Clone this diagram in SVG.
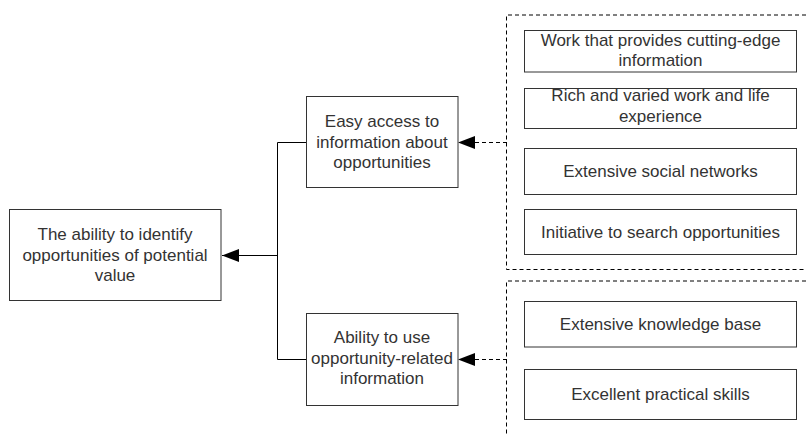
<svg xmlns="http://www.w3.org/2000/svg" width="806" height="435" viewBox="0 0 806 435">
<defs>
<style>
.box{fill:#fff;stroke:#333;stroke-width:1}
.t{font-family:"Liberation Sans",Arial,sans-serif;font-size:17px;fill:#333;text-anchor:middle}
.solid{fill:none;stroke:#000;stroke-width:1}
.dash{fill:none;stroke:#000;stroke-width:1;stroke-dasharray:4,3}
</style>
<marker id="ah" markerWidth="17" markerHeight="13" refX="17" refY="6.5" orient="auto" markerUnits="userSpaceOnUse">
<path d="M0,0 L17,6.5 L0,13 Z" fill="#000"/>
</marker>
</defs>
<rect width="806" height="435" fill="#fff"/>
<g id="connectors">
<path class="solid" d="M306,142.5 H277.5 V359.5 H306"/>
<path class="solid" d="M277.5,255.5 H222" marker-end="url(#ah)"/>
<path class="dash" d="M507,142.5 H458" marker-end="url(#ah)"/>
<path class="dash" d="M507,359.5 H458" marker-end="url(#ah)"/>
</g>
<g id="group1">
<path class="dash" d="M806,15 H506.5 V269.5 H806"/>
</g>
<g id="group2">
<path class="dash" d="M806,281 H506.5 V435"/>
</g>
<g id="main">
<rect class="box" x="9.5" y="209.5" width="211.5" height="91"/>
<text class="t" x="115" y="240">The ability to identify</text>
<text class="t" x="115" y="260.5">opportunities of potential</text>
<text class="t" x="115" y="281">value</text>
</g>
<g id="access">
<rect class="box" x="306.5" y="96.5" width="151.5" height="91"/>
<text class="t" x="382" y="127">Easy access to</text>
<text class="t" x="382" y="147.5">information about</text>
<text class="t" x="382" y="168">opportunities</text>
</g>
<g id="use">
<rect class="box" x="306.5" y="313.5" width="151.5" height="92"/>
<text class="t" x="382" y="343">Ability to use</text>
<text class="t" x="382" y="363.5">opportunity-related</text>
<text class="t" x="382" y="384">information</text>
</g>
<g id="work">
<rect class="box" x="524.5" y="30.5" width="272" height="41.5"/>
<text class="t" x="660.5" y="46">Work that provides cutting-edge</text>
<text class="t" x="660.5" y="66">information</text>
</g>
<g id="rich">
<rect class="box" x="524.5" y="88.5" width="272" height="40"/>
<text class="t" x="660.5" y="101">Rich and varied work and life</text>
<text class="t" x="660.5" y="122">experience</text>
</g>
<g id="social">
<rect class="box" x="524.5" y="148.5" width="272" height="46"/>
<text class="t" x="660.5" y="177">Extensive social networks</text>
</g>
<g id="initiative">
<rect class="box" x="524.5" y="209.5" width="272" height="45"/>
<text class="t" x="660.5" y="238">Initiative to search opportunities</text>
</g>
<g id="knowledge">
<rect class="box" x="524.5" y="301.5" width="272" height="45.5"/>
<text class="t" x="660.5" y="329.5">Extensive knowledge base</text>
</g>
<g id="skills">
<rect class="box" x="524.5" y="369.5" width="272" height="50"/>
<text class="t" x="660.5" y="400">Excellent practical skills</text>
</g>
</svg>
